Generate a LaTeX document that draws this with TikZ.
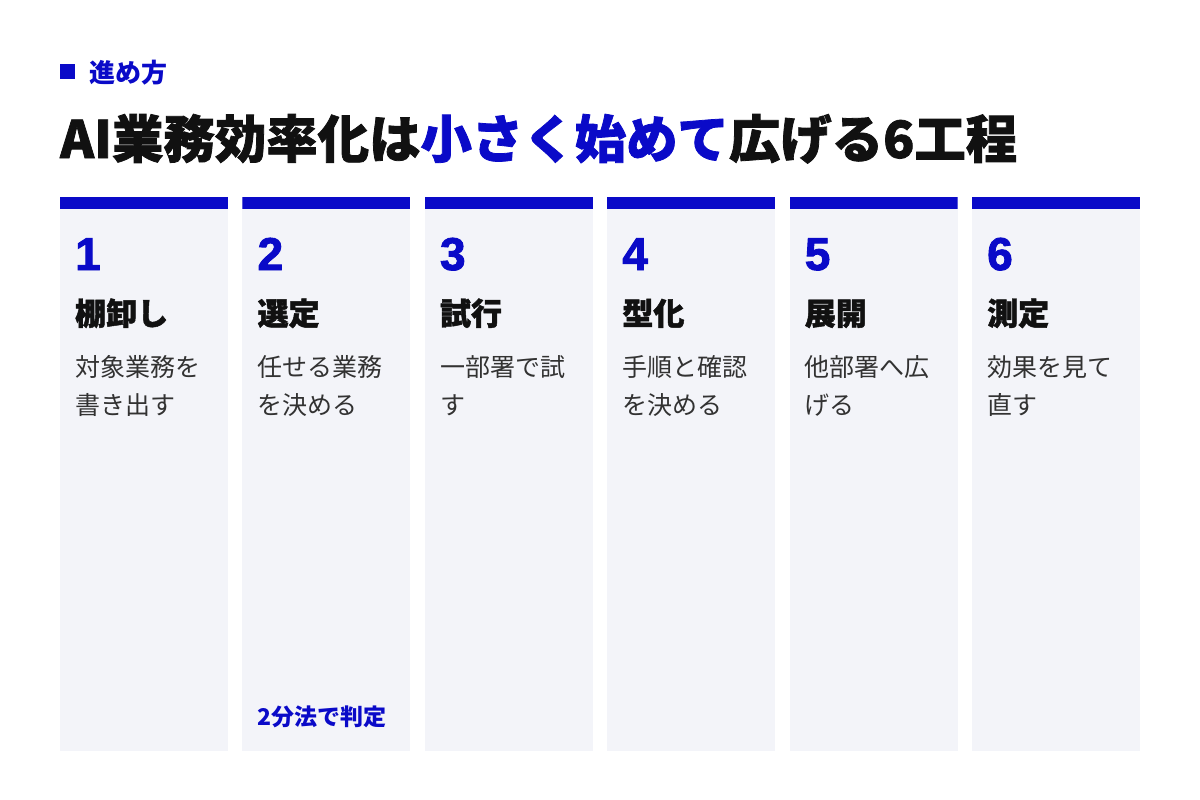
\documentclass[tikz,border=0pt]{standalone}
\usepackage{fontspec}
\setmainfont{Liberation Sans}[BoldFeatures={FakeBold=2}]
\newfontfamily\jp{Noto Sans CJK JP}
\newfontfamily\jpheavy{Noto Sans CJK JP}[BoldFeatures={FakeBold=1.5}]
\usetikzlibrary{positioning}
\definecolor{stepblue}{RGB}{10,10,200}
\definecolor{panelgray}{RGB}{243,244,249}
\definecolor{bodygray}{RGB}{50,50,50}
\definecolor{inkblack}{RGB}{17,17,17}

\begin{document}
\begin{tikzpicture}[x=1pt, y=1pt, node distance=14.4pt,
    panel/.style={fill=panelgray, minimum width=168pt, minimum height=554pt, inner sep=0pt, outer sep=0pt, anchor=north west,
        path picture={\fill[stepblue] (path picture bounding box.north west) rectangle ([yshift=-12pt]path picture bounding box.north east);}},
    num/.style={anchor=base west, inner sep=0pt, text=stepblue, font=\bfseries\fontsize{46}{46}\selectfont},
    head/.style={anchor=base west, inner sep=0pt, text=inkblack, font=\jpheavy\bfseries\fontsize{31}{31}\selectfont},
    desc/.style={anchor=base west, inner sep=0pt, align=left, text=bodygray, font=\jp\fontsize{25}{38}\selectfont},
    note/.style={anchor=base west, inner sep=0pt, text=stepblue, font=\jp\bfseries\fontsize{23}{23}\selectfont}]
    \fill [white] (0,0) rectangle (1200,-800);
    \useasboundingbox (0,0) rectangle (1200,-800);

    % Header
    \node [fill=stepblue, minimum size=15pt, inner sep=0pt, anchor=north west] (mark) at (60,-64) {};
    \node [anchor=base west, inner sep=0pt, text=stepblue, font=\jp\bfseries\fontsize{26}{26}\selectfont] (tag) at (89,-82) {進め方};
    \node [anchor=base west, inner sep=0pt, text=inkblack, font=\jpheavy\bfseries\fontsize{51.4}{51.4}\selectfont] (title) at (60,-158)
        {AI業務効率化は\textcolor{stepblue}{小さく始めて}広げる6工程};

    % Panels {p1, p2, ..., p6}
    \node [panel] (p1) at (60,-197) {};
    \node [panel] (p2) [right=of p1] {};
    \node [panel] (p3) [right=of p2] {};
    \node [panel] (p4) [right=of p3] {};
    \node [panel] (p5) [right=of p4] {};
    \node [panel] (p6) [right=of p5] {};

    % Steps (desc sits on its last line)
    \node [num]  (n1) at ([shift={(15,-73)}]p1.north west)  {1};
    \node [head] (h1) at ([shift={(15,-128)}]p1.north west) {棚卸し};
    \node [desc] (d1) at ([shift={(15,-217)}]p1.north west) {対象業務を\\書き出す};

    \node [num]  (n2) at ([shift={(15,-73)}]p2.north west)  {2};
    \node [head] (h2) at ([shift={(15,-128)}]p2.north west) {選定};
    \node [desc] (d2) at ([shift={(15,-217)}]p2.north west) {任せる業務\\を決める};
    \node [note] (m2) at ([shift={(15,26)}]p2.south west)   {2分法で判定};

    \node [num]  (n3) at ([shift={(15,-73)}]p3.north west)  {3};
    \node [head] (h3) at ([shift={(15,-128)}]p3.north west) {試行};
    \node [desc] (d3) at ([shift={(15,-217)}]p3.north west) {一部署で試\\す};

    \node [num]  (n4) at ([shift={(15,-73)}]p4.north west)  {4};
    \node [head] (h4) at ([shift={(15,-128)}]p4.north west) {型化};
    \node [desc] (d4) at ([shift={(15,-217)}]p4.north west) {手順と確認\\を決める};

    \node [num]  (n5) at ([shift={(15,-73)}]p5.north west)  {5};
    \node [head] (h5) at ([shift={(15,-128)}]p5.north west) {展開};
    \node [desc] (d5) at ([shift={(15,-217)}]p5.north west) {他部署へ広\\げる};

    \node [num]  (n6) at ([shift={(15,-73)}]p6.north west)  {6};
    \node [head] (h6) at ([shift={(15,-128)}]p6.north west) {測定};
    \node [desc] (d6) at ([shift={(15,-217)}]p6.north west) {効果を見て\\直す};
\end{tikzpicture}
\end{document}
